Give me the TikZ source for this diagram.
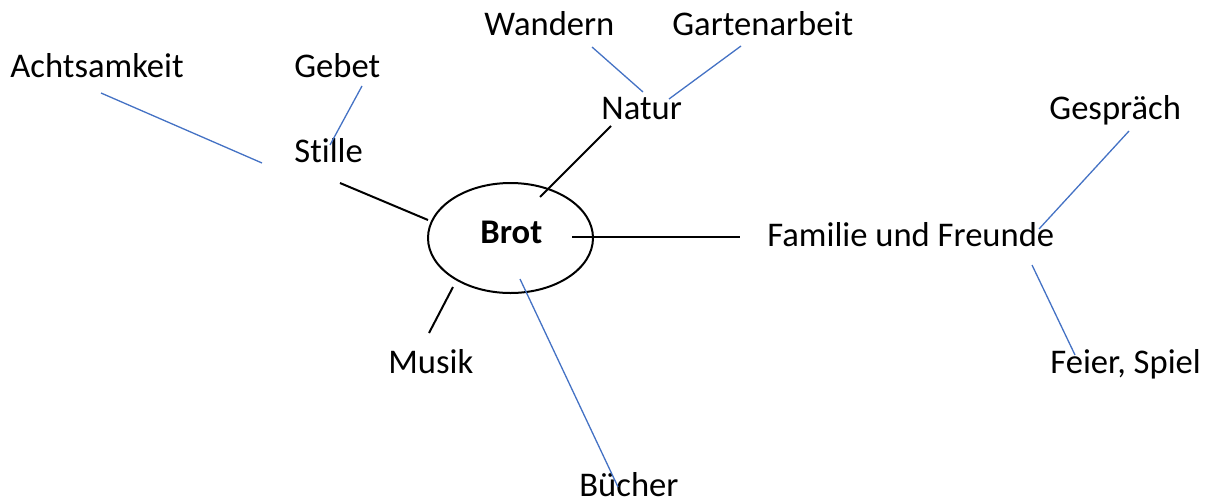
\documentclass[tikz,border=0pt]{standalone}
\usepackage{fontspec}
\setmainfont{Carlito}[Ligatures=NoCommon]
\definecolor{lineblue}{RGB}{68,114,196}
\begin{document}
\begin{tikzpicture}[x=0.5pt,y=-0.5pt,
  lbl/.style={inner sep=0pt,anchor=base west,font=\fontsize{17.3}{20}\selectfont},
  blk/.style={draw=black,line width=1pt},
  blu/.style={draw=lineblue,line width=0.65pt}]
\useasboundingbox (0,0) rectangle (1213,503);
% central ellipse
\draw[line width=1pt] (510.5,238) ellipse [x radius=82.5, y radius=55];
\node[lbl,font=\fontsize{17.3}{20}\selectfont\bfseries] (brot) at (480,243) {Brot};
% labels
\node[lbl] (acht) at (10,77) {Achtsamkeit};
\node[lbl] (gebet) at (294,77) {Gebet};
\node[lbl] (stille) at (294,162) {Stille};
\node[lbl] (wand) at (484,35) {Wandern};
\node[lbl] (garten) at (672,35) {Gartenarbeit};
\node[lbl] (natur) at (601,119) {Natur};
\node[lbl] (gespr) at (1049,119) {Gespräch};
\node[lbl] (fam) at (767,246) {Familie und Freunde};
\node[lbl] (feier) at (1050,373) {Feier, Spiel};
\node[lbl] (musik) at (388,373) {Musik};
\node[lbl] (buch) at (579,496) {Bücher};
% connector end points
\coordinate (s1) at (340,183); \coordinate (s2) at (428,220);
\coordinate (n1) at (611,126); \coordinate (n2) at (540,197);
\coordinate (f1) at (572,237); \coordinate (f2) at (740,237);
\coordinate (m1) at (453,287); \coordinate (m2) at (429,333);
\coordinate (a1) at (101,93);  \coordinate (a2) at (262,163);
\coordinate (g1) at (362,86);  \coordinate (g2) at (330,145);
\coordinate (w1) at (592,47);  \coordinate (w2) at (643,92);
\coordinate (ga1) at (741,46); \coordinate (ga2) at (669,99);
\coordinate (ge1) at (1129,131); \coordinate (ge2) at (1039,229);
\coordinate (fe1) at (1032,265); \coordinate (fe2) at (1075,355);
\coordinate (b1) at (520,279); \coordinate (b2) at (618,487);
% black connectors
\draw[blk] (s1) -- (s2);
\draw[blk] (n1) -- (n2);
\draw[blk] (f1) -- (f2);
\draw[blk] (m1) -- (m2);
% blue connectors
\draw[blu] (a1) -- (a2);
\draw[blu] (g1) -- (g2);
\draw[blu] (w1) -- (w2);
\draw[blu] (ga1) -- (ga2);
\draw[blu] (ge1) -- (ge2);
\draw[blu] (fe1) -- (fe2);
\draw[blu] (b1) -- (b2);
\end{tikzpicture}
\end{document}
